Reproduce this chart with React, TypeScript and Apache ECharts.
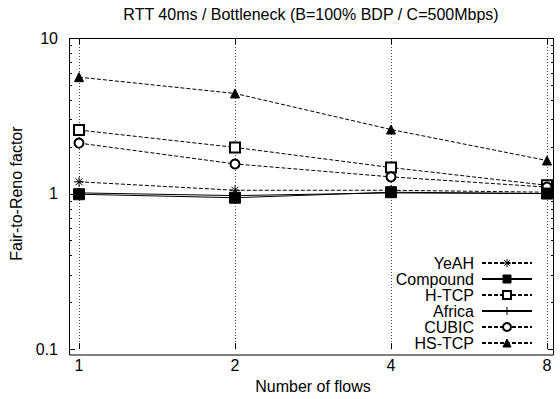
import React, { useEffect, useRef } from "react";
import * as echarts from "echarts";

const flows = [1, 2, 4, 8];
const seriesNames = ["YeAH", "Compound", "H-TCP", "Africa", "CUBIC", "HS-TCP"];
const yeahValues = [1.19, 1.05, 1.05, 1.02];
const compoundValues = [0.99, 0.94, 1.02, 1.0];
const htcpValues = [2.56, 1.98, 1.47, 1.13];
const africaValues = [1.01, 0.97, 1.01, 1.0];
const cubicValues = [2.11, 1.55, 1.28, 1.1];
const hstcpValues = [5.6, 4.4, 2.58, 1.63];
const yMajorTicks = [0.1, 1, 10];
const yMinorTicks = [0.2, 0.3, 0.4, 0.5, 0.6, 0.7, 0.8, 0.9, 2, 3, 4, 5, 6, 7, 8, 9];

const FONT = "Liberation Sans, Arial, sans-serif";
const ASTERISK = "path://M5,0L5,10M0,5L10,5M1.5,1.5L8.5,8.5M1.5,8.5L8.5,1.5";
const PLUS = "path://M5,0L5,10M0,5L10,5";
const DASH = [4, 2];

function mk(name: string, values: number[], symbol: string, size: number, dashed: boolean, z: number) {
  return {
    name,
    type: "line",
    xAxisIndex: 0,
    yAxisIndex: 0,
    data: flows.map((f, i) => [f, values[i]]),
    symbol,
    symbolSize: size,
    showSymbol: true,
    z,
    lineStyle: { color: "#000", width: 1, type: dashed ? DASH : "solid" },
    itemStyle: { color: "#000", borderColor: "#000", borderWidth: 1 },
    emphasis: { disabled: true },
  };
}

export default function App() {
  const ref = useRef<HTMLDivElement>(null);
  useEffect(() => {
    if (!ref.current) return;
    const chart = echarts.init(ref.current, undefined, { renderer: "svg" });
    const xBase = {
      type: "log",
      logBase: 2,
      min: 1,
      max: 8,
      gridIndex: 0,
      axisLine: { show: false },
    };
    const tickData = [
      ...yMajorTicks.map((v) => [1, v, 1]),
      ...yMinorTicks.map((v) => [1, v, 0]),
    ];
    chart.setOption({
      animation: false,
      title: {
        text: "RTT 40ms / Bottleneck (B=100% BDP / C=500Mbps)",
        left: 311,
        textAlign: "center",
        top: 6,
        padding: 0,
        textStyle: { fontSize: 16, fontWeight: "normal", color: "#000", fontFamily: FONT },
      },
      grid: { left: 79, right: 13, top: 38, bottom: 44 },
      xAxis: [
        {
          ...xBase,
          position: "bottom",
          axisTick: { show: true, inside: true, length: 6, lineStyle: { color: "#000" } },
          axisLabel: { fontSize: 16, color: "#000", fontFamily: FONT, margin: 8, formatter: (v: number) => String(Math.round(v)) },
          splitLine: { show: true, lineStyle: { color: "#444", width: 1, type: [1, 2] } },
          name: "Number of flows",
          nameLocation: "middle",
          nameGap: 24,
          nameTextStyle: { fontSize: 16, color: "#000", fontFamily: FONT },
        },
        {
          ...xBase,
          position: "top",
          axisTick: { show: true, inside: true, length: 6, lineStyle: { color: "#000" } },
          axisLabel: { show: false },
          splitLine: { show: false },
        },
      ],
      yAxis: [
        {
          type: "log",
          logBase: 10,
          min: 0.1,
          max: 10,
          gridIndex: 0,
          position: "left",
          offset: 10,
          axisLine: { show: false },
          splitLine: { show: false },
          axisTick: { show: false },
          axisLabel: { fontSize: 16, color: "#000", fontFamily: FONT, margin: 11 },
          name: "Fair-to-Reno factor",
          nameLocation: "middle",
          nameGap: 43,
          nameRotate: 90,
          nameTextStyle: { fontSize: 16, color: "#000", fontFamily: FONT },
        },
      ],
      legend: {
        orient: "vertical",
        align: "right",
        right: 27,
        top: 255,
        padding: 0,
        itemWidth: 50,
        itemHeight: 10,
        itemGap: 0,
        selectedMode: false,
        itemStyle: { borderColor: "#000", borderWidth: 1 },
        textStyle: { fontSize: 16, color: "#000", fontFamily: FONT, padding: [0, 3, 0, 0] },
        data: seriesNames,
      },
      graphic: [
        {
          type: "rect",
          shape: { x: 69.5, y: 38.5, width: 484, height: 316.5 },
          style: { fill: "none", stroke: "#000", lineWidth: 1 },
          z: 100,
          silent: true,
        },
      ],
      series: [
        {
          type: "custom",
          name: "yticks",
          xAxisIndex: 0,
          yAxisIndex: 0,
          silent: true,
          clip: false,
          z: 50,
          encode: { x: 0, y: 1 },
          data: tickData,
          renderItem: (params: any, api: any) => {
            const v = api.value(1);
            const major = api.value(2);
            const pt = api.coord([1, v]);
            const cs = params.coordSys;
            const len = major ? 6 : 3;
            const xl = cs.x - 10;
            const xr = cs.x + cs.width + 7;
            const y = Math.round(pt[1]) + 0.5;
            return {
              type: "group",
              children: [
                { type: "line", shape: { x1: xl, y1: y, x2: xl + len, y2: y }, style: { stroke: "#000", lineWidth: 1 } },
                { type: "line", shape: { x1: xr, y1: y, x2: xr - len, y2: y }, style: { stroke: "#000", lineWidth: 1 } },
              ],
            };
          },
        },
        mk("Africa", africaValues, PLUS, 10, false, 2),
        mk("YeAH", yeahValues, ASTERISK, 10, true, 3),
        mk("H-TCP", htcpValues, "emptyRect", 10, true, 3),
        mk("CUBIC", cubicValues, "emptyCircle", 9, true, 3),
        mk("HS-TCP", hstcpValues, "triangle", 9, true, 3),
        mk("Compound", compoundValues, "rect", 11, false, 4),
      ],
    });
    return () => chart.dispose();
  }, []);
  return <div ref={ref} style={{ width: 560, height: 399, position: "absolute", left: 0, top: 0 }} />;
}
